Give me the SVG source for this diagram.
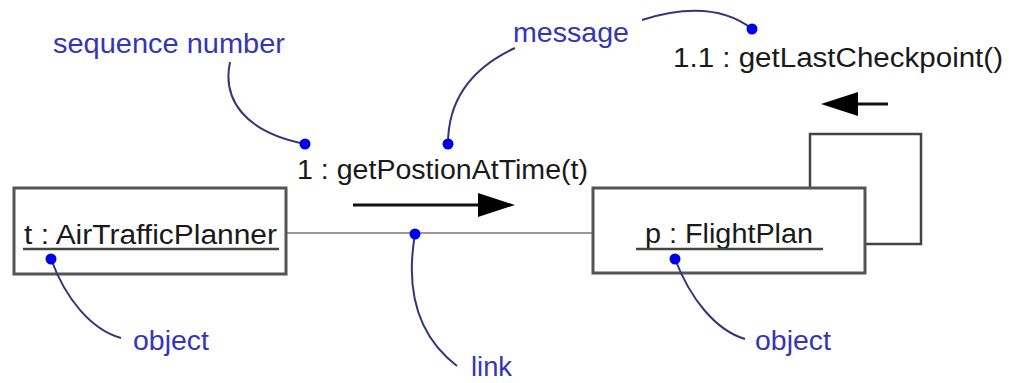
<svg xmlns="http://www.w3.org/2000/svg" width="1009" height="383" viewBox="0 0 1009 383">
<style>
.box{fill:#fff;stroke:#555;stroke-width:3}
.t{font-family:"Liberation Sans",Arial,sans-serif;font-size:27px;fill:#1a1a1a}
.lbl{font-family:"Liberation Sans",Arial,sans-serif;font-size:27px;fill:#3535b5}
.ann{fill:none;stroke:#35357a;stroke-width:2}
.dot{fill:#0000e6}
.ul{stroke:#444;stroke-width:2.5}
.msg{stroke:#111;stroke-width:3;fill:none}
.head{fill:#000}
</style>
<rect width="1009" height="383" fill="#fff"/>
<g id="connectors">
  <line x1="286" y1="233" x2="593" y2="233" stroke="#777" stroke-width="1.5"/>
  <polyline points="810,188 810,134 921,134 921,244 865,244" fill="none" stroke="#444" stroke-width="2.5"/>
  <line class="msg" x1="353" y1="205" x2="482" y2="205"/>
  <polygon class="head" points="478,193 515,205 478,217"/>
  <line class="msg" x1="888" y1="104" x2="855" y2="104"/>
  <polygon class="head" points="858,92 821,104 858,116"/>
</g>
<g id="obj-t">
  <rect class="box" x="14" y="188" width="272" height="86"/>
  <text class="t" x="24" y="244" textLength="253" lengthAdjust="spacingAndGlyphs">t : AirTrafficPlanner</text>
  <line class="ul" x1="23" y1="249" x2="279" y2="249"/>
</g>
<g id="obj-p">
  <rect class="box" x="593" y="188" width="272" height="85"/>
  <text class="t" x="645" y="243" textLength="168" lengthAdjust="spacingAndGlyphs">p : FlightPlan</text>
  <line class="ul" x1="636" y1="249" x2="823" y2="249"/>
</g>
<g id="messages">
  <text class="t" x="297" y="179" textLength="291" lengthAdjust="spacingAndGlyphs">1 : getPostionAtTime(t)</text>
  <text class="t" x="673" y="67" textLength="330" lengthAdjust="spacingAndGlyphs">1.1 : getLastCheckpoint()</text>
</g>
<g id="annotations">
  <text class="lbl" x="53" y="53" textLength="232" lengthAdjust="spacingAndGlyphs">sequence number</text>
  <path class="ann" d="M230,62 C222,100 245,132 305,144"/>
  <circle class="dot" cx="305" cy="144" r="5.5"/>
  <text class="lbl" x="513" y="42" textLength="116" lengthAdjust="spacingAndGlyphs">message</text>
  <path class="ann" d="M448,144 C448,100 472,68 515,48"/>
  <circle class="dot" cx="448" cy="144" r="5.5"/>
  <path class="ann" d="M642,20 Q712,-2 752,29"/>
  <circle class="dot" cx="752" cy="29" r="5.5"/>
  <path class="ann" d="M51,259 C66,300 92,330 121,338"/>
  <circle class="dot" cx="51" cy="259" r="5.5"/>
  <text class="lbl" x="133" y="350" textLength="76" lengthAdjust="spacingAndGlyphs">object</text>
  <path class="ann" d="M415,234 C405,292 418,336 457,366"/>
  <circle class="dot" cx="415" cy="234" r="5.5"/>
  <text class="lbl" x="471" y="376" textLength="41" lengthAdjust="spacingAndGlyphs">link</text>
  <path class="ann" d="M675,259 C690,298 715,330 745,339"/>
  <circle class="dot" cx="675" cy="259" r="5.5"/>
  <text class="lbl" x="755" y="350" textLength="76" lengthAdjust="spacingAndGlyphs">object</text>
</g>
</svg>
